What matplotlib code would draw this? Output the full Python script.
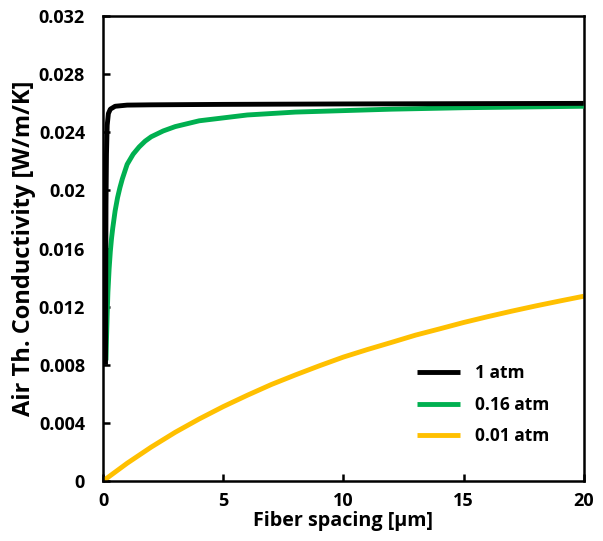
import matplotlib
matplotlib.use("Agg")
import matplotlib.pyplot as plt

# values
x_1atm = [0.10, 0.11, 0.12, 0.14, 0.17, 0.22, 0.30, 0.50, 1.0, 2.0, 5.0, 10.0, 20.0]
k_1atm = [0.0080, 0.0140, 0.0190, 0.0225, 0.0245, 0.0253, 0.0256, 0.0258, 0.02588, 0.0259, 0.02593, 0.02596, 0.0260]

x_016atm = [0.12, 0.14, 0.17, 0.2, 0.25, 0.3, 0.35, 0.4, 0.5, 0.6, 0.7, 0.8, 0.9, 1.0, 1.25, 1.5, 1.75,
            2.0, 2.5, 3.0, 3.5, 4.0, 5.0, 6.0, 7.0, 8.0, 10.0, 12.0, 15.0, 20.0]
k_016atm = [0.0083, 0.0097, 0.0115, 0.0130, 0.0146, 0.0158, 0.0167, 0.0174, 0.0186, 0.0195, 0.0202, 0.0208,
            0.0213, 0.0218, 0.0225, 0.0230, 0.0234, 0.0237, 0.0241, 0.0244, 0.0246, 0.0248, 0.0250, 0.0252,
            0.0253, 0.0254, 0.0255, 0.0256, 0.0257, 0.0258]

x_001atm = list(range(0, 21))
k_001atm = [0.0, 0.00122, 0.00233, 0.00335, 0.00427, 0.00512, 0.0059, 0.00664, 0.0073, 0.00793, 0.00853,
            0.00905, 0.00954, 0.01004, 0.01047, 0.01091, 0.01131, 0.01169, 0.01205, 0.01239, 0.01272]

labels = ['1 atm', '0.16 atm', '0.01 atm']
colors = ['black', '#00B050', '#FFC000']

xticks = [0, 5, 10, 15, 20]
yticks = [0, 0.004, 0.008, 0.012, 0.016, 0.02, 0.024, 0.028, 0.032]
ytick_labels = ['0', '0.004', '0.008', '0.012', '0.016', '0.02', '0.024', '0.028', '0.032']

plt.rcParams['font.family'] = ['Open Sans', 'DejaVu Sans']
plt.rcParams['font.weight'] = 'bold'

fig = plt.figure(figsize=(6.03, 5.41), dpi=100)
ax = fig.add_axes([0.171, 0.111, 0.797, 0.859])

ax.plot(x_001atm, k_001atm, color=colors[2], lw=3.5, label=labels[2], solid_capstyle='butt', zorder=2)
ax.plot(x_016atm, k_016atm, color=colors[1], lw=3.5, label=labels[1], solid_capstyle='butt', zorder=3)
ax.plot(x_1atm, k_1atm, color=colors[0], lw=3.5, label=labels[0], solid_capstyle='butt', zorder=4)

ax.set_xlim(0, 20)
ax.set_ylim(0, 0.032)
ax.set_xticks(xticks)
ax.set_xticklabels([str(t) for t in xticks])
ax.set_yticks(yticks)
ax.set_yticklabels(ytick_labels)
ax.tick_params(direction='in', length=5, width=1.8, labelsize=13, colors='black')
ax.tick_params(axis='y', pad=13)
ax.tick_params(axis='x', pad=8)
for s in ax.spines.values():
    s.set_linewidth(1.8)

ax.set_xlabel('Fiber spacing [µm]', fontsize=14.2, fontweight='bold', labelpad=1)
ax.set_ylabel('Air Th. Conductivity [W/m/K]', fontsize=17, fontweight='bold', labelpad=2)

handles, labs = ax.get_legend_handles_labels()
order = [2, 1, 0]
leg = ax.legend([handles[i] for i in order], [labs[i] for i in order],
                loc='upper left', bbox_to_anchor=(0.653, 0.251), frameon=False,
                borderpad=0, borderaxespad=0,
                fontsize=12.5, handlelength=2.5, handletextpad=0.85, labelspacing=0.78)

fig.savefig('out.png', dpi=100)
